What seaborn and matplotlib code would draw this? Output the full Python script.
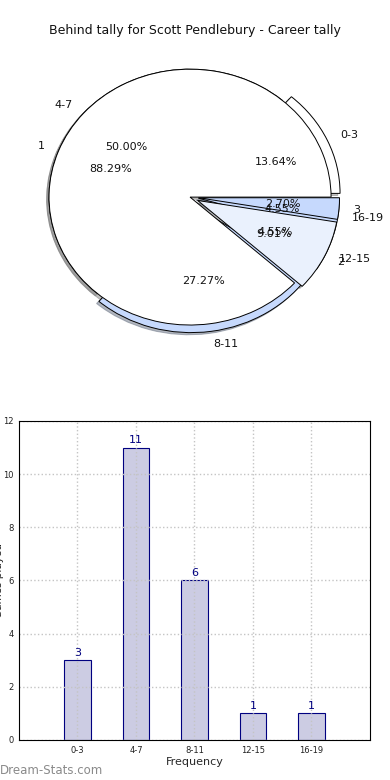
import matplotlib
matplotlib.use("Agg")
import matplotlib.pyplot as plt
import seaborn as sns
import pandas as pd

# ---- data ----
bins = ["0-3", "4-7", "8-11", "12-15", "16-19"]
bin_counts = [3, 11, 6, 1, 1]
run_labels = ["1", "2", "3"]
run_counts = [98, 10, 3]
title = "Behind tally for Scott Pendlebury - Career tally"
y_ticks = [0, 2, 4, 6, 8, 10, 12]

sns.set_theme(style="white")
plt.rcParams['font.family'] = ['DejaVu Sans']

fig = plt.figure(figsize=(3.9, 7.8), dpi=100)
fig.patch.set_facecolor("white")

# ---- pie ----
axp = fig.add_axes([0.0353, 0.5423, 0.904, 0.410])
wp = dict(edgecolor="black", linewidth=0.7)
tp = dict(fontsize=8, color="#111111")
sh = {"ox": -0.012, "oy": -0.012, "shade": 0.5}
axp.pie(bin_counts, labels=bins, autopct="%.2f%%",
        colors=["white", "white", "#c6d9fd", "#eaf1fd", "#c6d9fd"],
        explode=[0.07, 0, 0.06, 0.06, 0.06], shadow=sh, startangle=0,
        wedgeprops=wp, textprops=tp)
axp.pie(run_counts, labels=run_labels, autopct="%.2f%%",
        colors=["white", "#eaf1fd", "#c6d9fd"],
        explode=[0, 0.06, 0.06],
        shadow=sh, startangle=0, wedgeprops=wp, textprops=tp)
axp.set_aspect("auto")
axp.set_xlim(-1.25, 1.25)
axp.set_ylim(-1.25, 1.25)
fig.text(0.5, 0.961, title, ha="center", va="center", fontsize=9, color="#111111")

# ---- bars ----
axb = fig.add_axes([0.0487, 0.0513, 0.900, 0.409])
df = pd.DataFrame({"bin": bins, "count": bin_counts})
sns.barplot(data=df, x="bin", y="count", order=bins, ax=axb, width=0.45,
            color="#cccce3", edgecolor="#000080", linewidth=0.8, saturation=1)
axb.set_xlim(-1, 5)
axb.set_ylim(0, 12)
axb.set_yticks(y_ticks)
axb.tick_params(axis="both", labelsize=6, length=2, pad=2, colors="#222222")
axb.grid(True, linestyle=":", color="#c4c4c4", linewidth=1)
axb.set_axisbelow(False)
for s in axb.spines.values():
    s.set_color("black")
    s.set_linewidth(0.8)
    s.set_zorder(5)
for i, v in enumerate(bin_counts):
    axb.text(i, v + 0.1, str(v), ha="center", va="bottom", fontsize=8, color="#000080")
axb.set_xlabel("Frequency", fontsize=8, labelpad=2)
axb.set_ylabel("")
fig.text(-0.003, 0.256, "Games played", rotation=90, ha="center", va="center",
         fontsize=7.5, color="#222222")
fig.text(0.0, 0.012, "Dream-Stats.com", ha="left", va="center", fontsize=8.5, color="#8a8a8a")

fig.savefig("out.png", dpi=100)
